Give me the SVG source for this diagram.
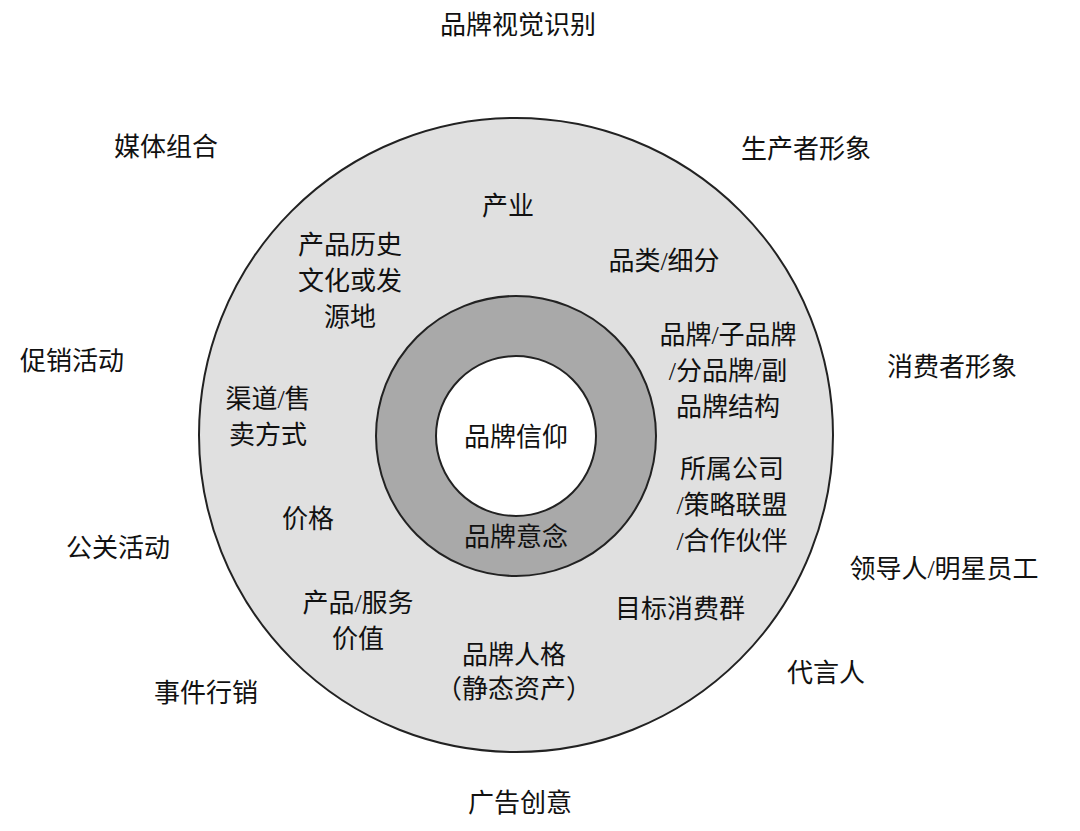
<svg xmlns="http://www.w3.org/2000/svg" width="1080" height="831" viewBox="0 0 1080 831">
<style>
text{font-family:"Liberation Serif","Noto Sans CJK SC",serif;font-size:26px;fill:#111;text-anchor:middle}
.c{stroke:#222;stroke-width:2}
</style>
<rect width="1080" height="831" fill="#fff"/>
<g id="outer"><circle class="c" cx="516" cy="435" r="317" fill="#e0e0e0"/></g>
<g id="middle"><circle class="c" cx="516" cy="436" r="140" fill="#a9a9a9"/></g>
<g id="inner"><circle class="c" cx="516" cy="436" r="80" fill="#fff"/><text x="516" y="446">品牌信仰</text></g>
<g id="connectors"/>
<g id="labels">
<text x="518" y="34">品牌视觉识别</text>
<text x="166" y="156">媒体组合</text>
<text x="806" y="158">生产者形象</text>
<text x="72" y="370">促销活动</text>
<text x="952" y="376">消费者形象</text>
<text x="118" y="557">公关活动</text>
<text x="944" y="578">领导人/明星员工</text>
<text x="826" y="682">代言人</text>
<text x="206" y="702">事件行销</text>
<text x="520" y="812">广告创意</text>
<text x="508" y="215">产业</text>
<text x="664" y="270">品类/细分</text>
<text x="350" y="254">产品历史</text>
<text x="350" y="290">文化或发</text>
<text x="350" y="326">源地</text>
<text x="728" y="344">品牌/子品牌</text>
<text x="728" y="380">/分品牌/副</text>
<text x="728" y="416">品牌结构</text>
<text x="268" y="408">渠道/售</text>
<text x="268" y="444">卖方式</text>
<text x="732" y="478">所属公司</text>
<text x="732" y="514">/策略联盟</text>
<text x="732" y="550">/合作伙伴</text>
<text x="308" y="528">价格</text>
<text x="516" y="546">品牌意念</text>
<text x="358" y="612">产品/服务</text>
<text x="358" y="648">价值</text>
<text x="680" y="618">目标消费群</text>
<text x="514" y="664">品牌人格</text>
<text x="514" y="698">（静态资产）</text>
</g>
</svg>
